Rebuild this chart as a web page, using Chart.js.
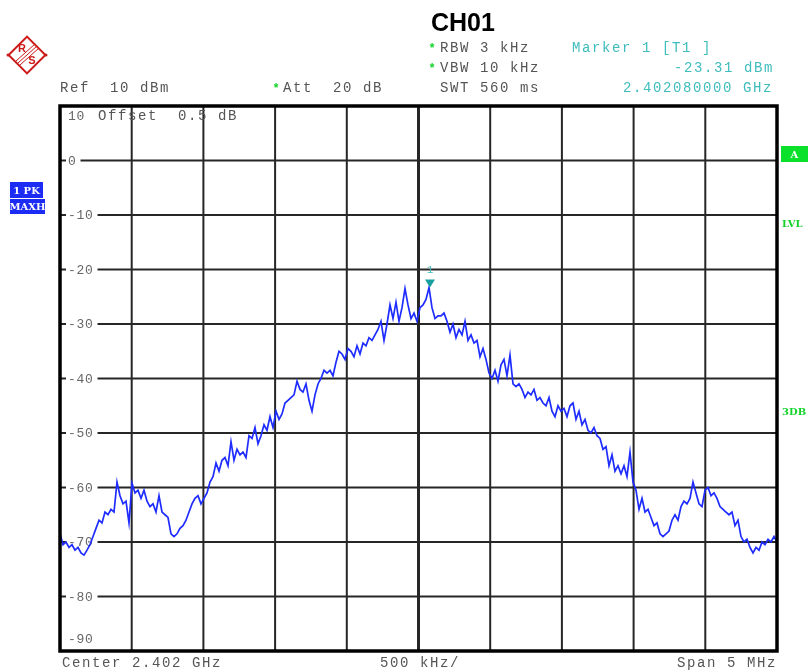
<!DOCTYPE html>
<html>
<head>
<meta charset="utf-8">
<script src="https://cdn.jsdelivr.net/npm/chart.js@4.4.0/dist/chart.umd.min.js"></script>
<style>
  html, body { margin: 0; padding: 0; background: #fff; }
  #wrap { position: relative; width: 808px; height: 672px; }
</style>
</head>
<body>
<div id="wrap"><canvas id="chart"></canvas></div>
<script>
// sweep: center 2.402 GHz, span 5 MHz, x values are offsets in kHz
const spanKHz = 5000;
const xTicks = [-2500, -2000, -1500, -1000, -500, 0, 500, 1000, 1500, 2000, 2500];
const yTicks = [10, 0, -10, -20, -30, -40, -50, -60, -70, -80, -90];
const yLabels = ["10", "0", "-10", "-20", "-30", "-40", "-50", "-60", "-70", "-80", "-90"];

// trace 1, max hold (dBm) left to right
const levels = [
  -68.5, -70.5, -70, -71, -70.5, -71.5, -71, -72, -72.4, -71.5,
  -70.5, -69, -67.5, -66, -66.5, -64.5, -65, -64, -64.5, -59,
  -61.5, -63, -62.5, -66.5, -59.2, -61, -60.5, -62, -60.5, -62.5,
  -63.5, -63, -64.5, -61.5, -64.5, -65, -65.5, -68.5, -69, -68.5,
  -67.5, -67, -66, -64.5, -63, -62, -61.5, -63, -62, -61,
  -59, -58, -55.5, -57, -55, -54.5, -56, -51.6, -55, -53,
  -54, -53.5, -54.5, -50.5, -51, -49, -52, -50.5, -48.5, -49.5,
  -47, -49, -46, -47.5, -46.5, -44.5, -44, -43.5, -43, -40.5,
  -42, -42.5, -41, -44, -46, -43, -41, -40, -38.5, -39,
  -38.5, -39.5, -37, -35, -35.5, -36.5, -34.5, -35, -36, -34,
  -35.5, -33.5, -34, -32.5, -33, -32, -31, -29.5, -33, -30,
  -26.5, -29, -26, -29.5, -27, -23.5, -26.5, -29, -28, -29.5,
  -27, -26.5, -25.5, -23.3, -27, -29, -28.5, -28.5, -28, -29.5,
  -31.5, -30, -32.5, -31, -32, -29.5, -33, -32, -33.5, -33,
  -36, -34.5, -36.5, -39, -40, -38.5, -40.5, -37.5, -36.5, -39.5,
  -35.7, -41, -41.5, -41, -42, -43.5, -42.5, -43, -42, -44,
  -43.5, -44.5, -45, -43.5, -46, -47, -45, -46, -45.5, -47,
  -45, -44.5, -47.5, -46, -48.5, -47.5, -49.5, -50, -49, -50.5,
  -51, -53, -52.5, -56, -54, -57, -56, -57.5, -56, -58,
  -53.5, -59, -60.5, -64, -62, -64.5, -64, -65.5, -67, -66.5,
  -68.5, -69, -68.5, -68, -66, -65, -66, -63.5, -62.5, -63,
  -62, -59, -61, -63, -63.5, -60.5, -60, -61.5, -61, -62,
  -63.5, -64, -64.5, -65, -64.5, -67, -66, -69, -70, -69.5,
  -71, -72, -71, -71.5, -70, -70.5, -69.5, -70, -69, -70
];
const sweepX = levels.map((v, i) => -spanKHz / 2 + i * spanKHz / (levels.length - 1));

const markerX = 80;       // 2.402080000 GHz
const markerLevel = -23.31;

const MONO = "'Liberation Mono', 'DejaVu Sans Mono', monospace";
const GRAY = "#555";
const TEAL = "#3fbcbc";
const GREEN = "#14d42a";

function mono(ctx, text, x, y, color, pitch = 10, size = 14) {
  ctx.font = `${size}px ${MONO}`;
  ctx.fillStyle = color;
  ctx.textAlign = "left";
  ctx.textBaseline = "alphabetic";
  for (let i = 0; i < text.length; i++) {
    ctx.fillText(text[i], x + i * pitch, y);
  }
}

function monoRight(ctx, text, right, y, color) {
  mono(ctx, text, right - 8 - (text.length - 1) * 10, y, color);
}

function star(ctx, x, y) {
  ctx.font = `bold 12px ${MONO}`;
  ctx.fillStyle = GREEN;
  ctx.textAlign = "center";
  ctx.textBaseline = "middle";
  ctx.fillText("*", x, y + 2);
}

function drawLogo(ctx) {
  ctx.save();
  ctx.strokeStyle = "#cc1a1a";
  ctx.fillStyle = "#cc1a1a";
  ctx.lineWidth = 2;
  ctx.translate(27, 55);
  ctx.rotate(Math.PI / 4);
  ctx.strokeRect(-13, -13, 26, 26);
  ctx.restore();
  ctx.save();
  ctx.strokeStyle = "#cc1a1a";
  ctx.lineWidth = 1;
  for (let k = -2; k <= 2; k += 2) {
    ctx.beginPath();
    ctx.moveTo(18 + k, 63 + k);
    ctx.lineTo(37 + k, 46 + k);
    ctx.stroke();
  }
  ctx.fillStyle = "#cc1a1a";
  ctx.font = "bold 11px 'Liberation Sans', Arial";
  ctx.textAlign = "center";
  ctx.textBaseline = "middle";
  ctx.fillText("R", 22, 49);
  ctx.fillText("S", 32, 61);
  ctx.beginPath();
  ctx.arc(8, 55, 1.5, 0, Math.PI * 2);
  ctx.arc(46, 55, 1.5, 0, Math.PI * 2);
  ctx.fill();
  ctx.restore();
}

function labelBox(ctx, text, x, y, w, h, bg, fg) {
  ctx.fillStyle = bg;
  ctx.fillRect(x, y, w, h);
  ctx.fillStyle = fg;
  ctx.font = `bold 10px 'DejaVu Serif', serif`;
  ctx.textAlign = "center";
  ctx.textBaseline = "middle";
  ctx.fillText(text, x + w / 2, y + h / 2 + 1);
}

const analyzerScreen = {
  id: "analyzerScreen",
  beforeDatasetsDraw(chart) {
    const { ctx, chartArea: a, scales: { x, y } } = chart;
    ctx.save();
    ctx.strokeStyle = "#262626";
    xTicks.forEach((v) => {
      const px = x.getPixelForValue(v);
      ctx.lineWidth = v === 0 ? 3 : 2;
      ctx.beginPath();
      ctx.moveTo(px, a.top);
      ctx.lineTo(px, a.bottom);
      ctx.stroke();
    });
    ctx.lineWidth = 2;
    yTicks.forEach((v) => {
      const py = y.getPixelForValue(v);
      ctx.beginPath();
      ctx.moveTo(a.left, py);
      ctx.lineTo(a.right, py);
      ctx.stroke();
    });
    // level labels
    yTicks.forEach((v, i) => {
      const text = yLabels[i];
      let py = y.getPixelForValue(v);
      if (i === 0) py += 10;
      else if (i === yTicks.length - 1) py -= 12;
      else {
        ctx.fillStyle = "#fff";
        ctx.fillRect(a.left + 6, py - 5, text.length * 8.5 + 6, 10);
      }
      ctx.font = `13px ${MONO}`;
      ctx.fillStyle = "#666";
      ctx.textAlign = "left";
      ctx.textBaseline = "middle";
      for (let c = 0; c < text.length; c++) {
        ctx.fillText(text[c], a.left + 8 + c * 8.5, py + 1);
      }
    });
    mono(ctx, "Offset  0.5 dB", 98, 120, GRAY);
    ctx.restore();
  },
  afterDatasetsDraw(chart) {
    const { ctx, chartArea: a, scales: { x, y } } = chart;
    ctx.save();
    // frame
    ctx.strokeStyle = "#000";
    ctx.lineWidth = 3.5;
    ctx.strokeRect(a.left, a.top, a.right - a.left, a.bottom - a.top);

    // marker 1
    const mx = x.getPixelForValue(markerX);
    const my = y.getPixelForValue(markerLevel);
    ctx.fillStyle = "#1a9f9f";
    ctx.beginPath();
    ctx.moveTo(mx - 5, my - 8);
    ctx.lineTo(mx + 5, my - 8);
    ctx.lineTo(mx, my);
    ctx.closePath();
    ctx.fill();
    ctx.font = `11px ${MONO}`;
    ctx.fillStyle = TEAL;
    ctx.textAlign = "center";
    ctx.textBaseline = "alphabetic";
    ctx.fillText("1", mx, my - 15);

    // header
    ctx.fillStyle = "#000";
    ctx.font = "bold 25px 'Liberation Sans', Arial";
    ctx.textAlign = "left";
    ctx.fillText("CH01", 431, 31);

    star(ctx, 432, 47);
    mono(ctx, "RBW 3 kHz", 440, 52, GRAY);
    star(ctx, 432, 67);
    mono(ctx, "VBW 10 kHz", 440, 72, GRAY);
    mono(ctx, "SWT 560 ms", 440, 92, GRAY);
    mono(ctx, "Marker 1 [T1 ]", 572, 52, TEAL);
    monoRight(ctx, "-23.31 dBm", 772, 72, TEAL);
    monoRight(ctx, "2.402080000 GHz", 771, 92, TEAL);
    mono(ctx, "Ref  10 dBm", 60, 92, GRAY);
    star(ctx, 276, 87);
    mono(ctx, "Att  20 dB", 283, 92, GRAY);

    // footer
    mono(ctx, "Center 2.402 GHz", 62, 667, GRAY);
    mono(ctx, "500 kHz/", 380, 667, GRAY);
    monoRight(ctx, "Span 5 MHz", 775, 667, GRAY);

    // side annotations
    labelBox(ctx, "1 PK", 10, 182, 33, 16, "#1c2cf4", "#fff");
    labelBox(ctx, "MAXH", 10, 199, 35, 15, "#1c2cf4", "#fff");
    labelBox(ctx, "A", 781, 146, 27, 16, "#0be02a", "#fff");
    ctx.fillStyle = GREEN;
    ctx.font = "bold 10px 'DejaVu Serif', serif";
    ctx.textAlign = "left";
    ctx.textBaseline = "middle";
    ctx.fillText("LVL", 782, 224);
    ctx.fillText("3DB", 782, 412);

    drawLogo(ctx);
    ctx.restore();
  }
};

new Chart(document.getElementById("chart").getContext("2d"), {
  type: "line",
  data: {
    datasets: [
      {
        label: "1 PK MAXH",
        data: levels.map((v, i) => ({ x: sweepX[i], y: v })),
        borderColor: "#1e2cff",
        borderWidth: 1.7,
        pointRadius: 0,
        tension: 0,
        fill: false
      }
    ]
  },
  options: {
    responsive: true,
    maintainAspectRatio: false,
    animation: false,
    layout: { padding: { left: 60, right: 31, top: 106, bottom: 21 } },
    plugins: {
      legend: { display: false },
      tooltip: { enabled: false }
    },
    scales: {
      x: { type: "linear", display: false, min: -2500, max: 2500 },
      y: { type: "linear", display: false, min: -90, max: 10 }
    }
  },
  plugins: [analyzerScreen]
});
</script>
</body>
</html>
